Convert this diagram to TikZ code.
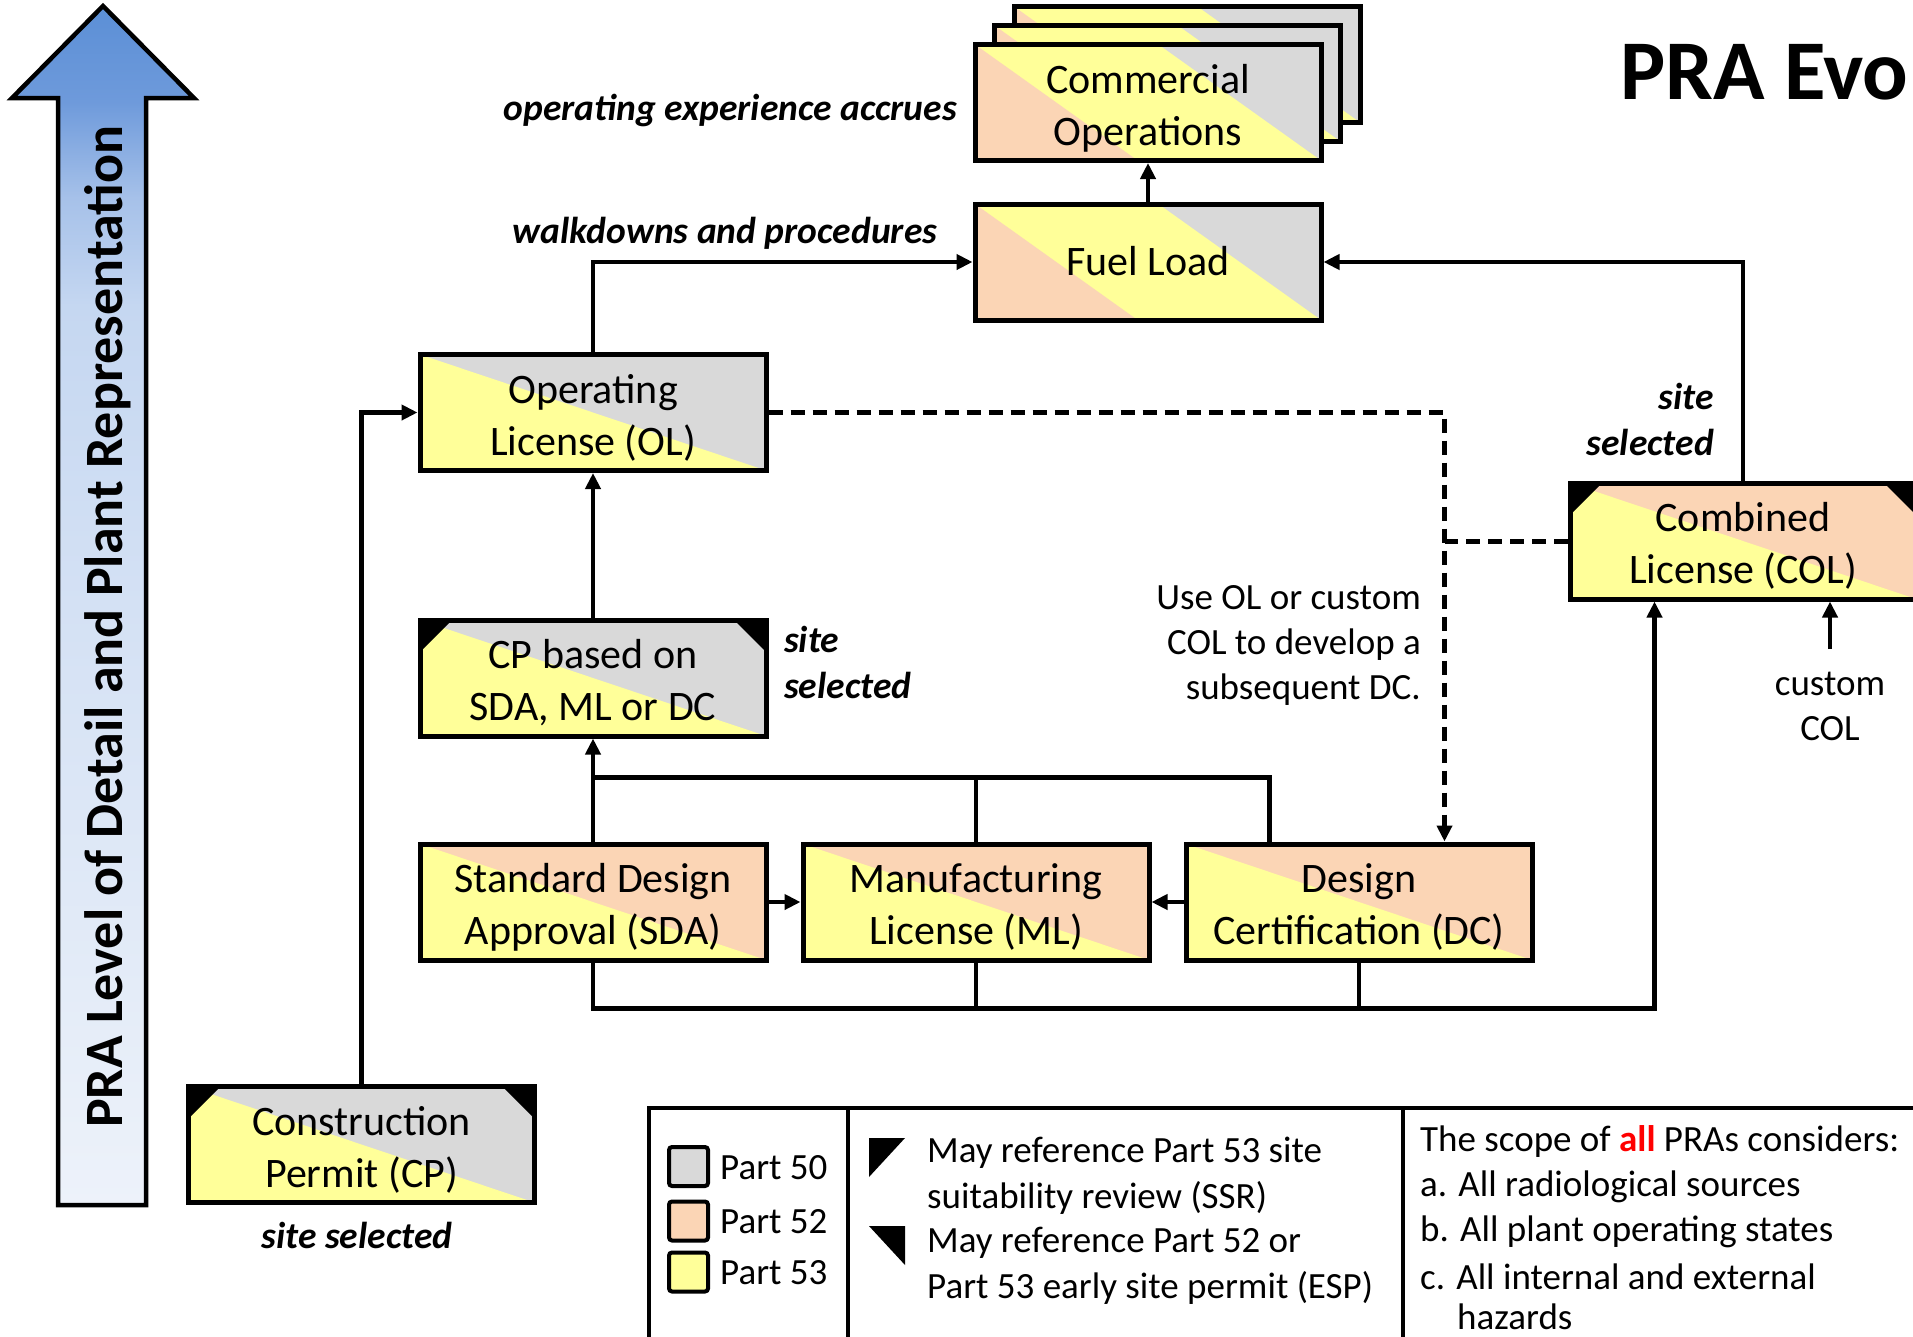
\documentclass[tikz,border=0pt]{standalone}
\usepackage{fontspec}
\setmainfont{Carlito}
\usetikzlibrary{arrows.meta,calc}
\definecolor{pgray}{HTML}{D9D9D9}
\definecolor{ppeach}{HTML}{FBD5B5}
\definecolor{pyellow}{HTML}{FFFF99}
\definecolor{atop}{HTML}{5B8FD6}
\definecolor{ahead}{HTML}{6E9ADB}
\definecolor{aup}{HTML}{A6C1E9}
\definecolor{amid}{HTML}{C5D7F1}
\definecolor{alow}{HTML}{D4E1F4}
\definecolor{abot}{HTML}{EDF2FA}
\pgfdeclareverticalshading{arrowshade}{100bp}{color(0bp)=(abot); color(25bp)=(abot); color(50bp)=(alow); color(62.5bp)=(amid); color(67bp)=(aup); color(71bp)=(ahead); color(75bp)=(atop); color(100bp)=(atop)}
\newcommand\PPcorners{%
  \coordinate (ppnw) at (path picture bounding box.north west);
  \coordinate (ppne) at (path picture bounding box.north east);
  \coordinate (ppsw) at (path picture bounding box.south west);
  \coordinate (ppse) at (path picture bounding box.south east);}
\newcommand\PPtwo[2]{\PPcorners
  \fill[#2] (ppnw) rectangle (ppse);
  \fill[#1] (ppnw) -- (ppse) -- (ppsw) -- cycle;}
\newcommand\PPthree{\PPcorners
  \fill[pgray] (ppnw) rectangle (ppse);
  \fill[pyellow] (ppnw) -- ($(ppnw)!0.53!(ppne)$) -- (ppse) -- (ppsw) -- cycle;
  \fill[ppeach] (ppnw) -- ($(ppsw)!0.47!(ppse)$) -- (ppsw) -- cycle;}
\newcommand\PPsnip{%
  \fill[black] (ppnw) -- ($(ppnw)!32pt!(ppne)$) -- ($(ppnw)!32pt!(ppsw)$) -- cycle;
  \fill[black] (ppne) -- ($(ppne)!32pt!(ppnw)$) -- ($(ppne)!32pt!(ppse)$) -- cycle;}
\newcommand\bt[2][-6.5pt]{\raisebox{#1}[\height][\depth]{\begin{tabular}{@{}c@{}}#2\end{tabular}}}
\begin{document}
\begin{tikzpicture}[x=1pt,y=-1pt,
  box/.style={draw=black,line width=5pt,minimum width=346pt,minimum height=116pt,inner sep=0pt,font=\fontsize{42}{52}\selectfont},
  fYG/.style={path picture={\PPtwo{pyellow}{pgray}}},
  fYGs/.style={path picture={\PPtwo{pyellow}{pgray}\PPsnip}},
  fYP/.style={path picture={\PPtwo{pyellow}{ppeach}}},
  fYPs/.style={path picture={\PPtwo{pyellow}{ppeach}\PPsnip}},
  fThree/.style={path picture={\PPthree}},
  conn/.style={line width=4.5pt},
  arr/.style={conn,-{Triangle[length=16pt,width=15pt]}},
  dsh/.style={line width=5pt,dash pattern=on 14pt off 8pt},
  lbl/.style={font=\fontsize{37.5}{46}\selectfont\bfseries\itshape,inner sep=0pt},
  txt/.style={font=\fontsize{37}{45}\selectfont,inner sep=0pt},
  legsq/.style={draw=black,line width=4pt,rounded corners=3pt,minimum width=39pt,minimum height=39pt,inner sep=0pt},
]
\useasboundingbox (0,0) rectangle (1913,1336);
\clip (0,0) rectangle (1913,1336);

% big arrow
\path[draw=black,line width=4.5pt,shading=arrowshade]
  (58,1205) -- (58,98) -- (12,98) -- (103,6) -- (194,98) -- (146,98) -- (146,1205) -- cycle;
\node[rotate=90,inner sep=0pt,font=\fontsize{54}{60}\selectfont\bfseries] (axis) at (108,627) {PRA Level of Detail and Plant Representation};

% title
\node[anchor=west,inner sep=0pt,font=\fontsize{85}{90}\selectfont\bfseries] (title) at (1620,72) {PRA Evo};

% boxes
\node[box,fThree] (co3) at (1187,64.5) {};
\node[box,fThree] (co2) at (1167.5,83.5) {};
\node[box,fThree] (co) at (1148,102.5) {\bt{Commercial\\Operations}};
\node[box,fThree] (fuel) at (1148,262) {\bt[-3pt]{Fuel Load}};
\node[box,fYG] (ol) at (593,412.5) {\bt{Operating\\License (OL)}};
\node[box,fYGs] (cpb) at (593,678) {\bt{CP based on\\SDA, ML or DC}};
\node[box,fYP] (sda) at (593,902) {\bt{Standard Design\\Approval (SDA)}};
\node[box,fYP] (ml) at (976,902) {\bt{Manufacturing\\License (ML)}};
\node[box,fYP] (dc) at (1359,902) {\bt{Design\\Certification (DC)}};
\node[box,fYPs] (col) at (1743,541) {\bt{Combined\\License (COL)}};
\node[box,fYGs] (cp) at (361.5,1144.5) {\bt{Construction\\Permit (CP)}};

% labels
\node[lbl,anchor=east] (oea) at (957,110) {operating experience accrues};
\node[lbl] (wdp) at (725,233) {walkdowns and procedures};
\node[lbl,anchor=east,align=right] (sscol) at (1714,419) {site\\selected};
\node[lbl,anchor=west,align=left] (sscpb) at (784,662) {site\\selected};
\node[lbl] (sscp) at (357,1235) {site selected};
\node[txt,anchor=east,align=right] (useol) at (1421,645) {Use OL or custom\\COL to develop a\\subsequent DC.};
\node[txt,align=center] (ccol) at (1830,706) {custom\\COL};

% connectors
\draw[arr] (fuel.north) -- (co.south);
\draw[arr] (ol.north) |- (fuel.west);
\draw[arr] (cp.north) |- (ol.west);
\draw[arr] (cpb.north) -- (ol.south);
\draw[arr] (sda.north) -- (cpb.south);
\coordinate (busT) at ($(sda.north)+(0,-64)$);
\coordinate (dctap) at ($(dc.north west)+(86,0)$);
\draw[conn] (busT) -| (dctap);
\draw[conn] (ml.north) -- (ml.north |- busT);
\draw[arr] (sda.east) -- (ml.west);
\draw[arr] (dc.west) -- (ml.east);
\coordinate (busB) at ($(sda.south)+(0,46)$);
\coordinate (coltap) at ($(col.south west)+(87,0)$);
\draw[arr] (sda.south) -- (busB) -| (coltap);
\draw[conn] (ml.south) -- (ml.south |- busB);
\draw[conn] (dc.south) -- (dc.south |- busB);
\draw[arr] (col.north) |- (fuel.east);
\coordinate (ccstart) at (1830,649);
\draw[arr] (ccstart) -- (ccstart |- col.south);
\coordinate (dcin) at ($(dc.north west)+(261,0)$);
\draw[dsh,-{Triangle[length=16pt,width=15pt]}] (ol.east) -| (dcin);
\draw[dsh] (col.west) -- (col.west -| dcin);

% legend
\draw[line width=4pt] (649,1108) rectangle (1960,1400);
\draw[line width=4pt] (848,1108) -- (848,1400);
\draw[line width=4pt] (1403,1108) -- (1403,1400);
\node[legsq,fill=pgray] (l50) at (688.5,1166.5) {};
\node[legsq,fill=ppeach] (l52) at (688.5,1221) {};
\node[legsq,fill=pyellow] (l53) at (688.5,1272) {};
\node[txt,anchor=west] (t50) at (720,1168) {Part 50};
\node[txt,anchor=west] (t52) at (720,1222) {Part 52};
\node[txt,anchor=west] (t53) at (720,1273) {Part 53};
\fill[black] (869,1138) -- (905,1138) -- (869,1177) -- cycle;
\fill[black] (869,1226) -- (905,1226) -- (905,1265) -- cycle;
\node[txt,anchor=west] (s1) at (927,1153) {May reference Part 53 site};
\node[txt,anchor=west] (s2) at (927,1198) {suitability review (SSR)};
\node[txt,anchor=west] (s3) at (927,1243) {May reference Part 52 or};
\node[txt,anchor=west] (s4) at (927,1288) {Part 53 early site permit (ESP)};
\node[txt,anchor=west] (r1) at (1420,1141) {The scope of \textcolor{red}{\textbf{all}} PRAs considers:};
\node[txt,anchor=west] (r2) at (1420,1187) {a. All radiological sources};
\node[txt,anchor=west] (r3) at (1420,1232) {b. All plant operating states};
\node[txt,anchor=west] (r4) at (1420,1277) {c. All internal and external};
\node[txt,anchor=west] (r5) at (1457,1317) {hazards};
\end{tikzpicture}
\end{document}
